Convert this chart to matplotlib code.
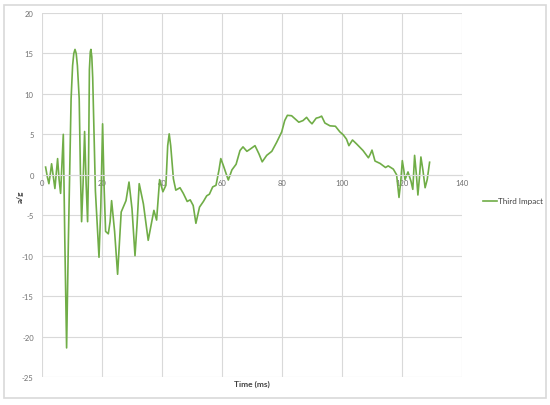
import matplotlib
matplotlib.use("Agg")
import matplotlib.pyplot as plt
from matplotlib.patches import Rectangle

plt.rcParams['font.family'] = ['Lato', 'DejaVu Sans']
plt.rcParams['axes.unicode_minus'] = False

time_ms = [1.2, 1.8, 2.3, 2.8, 3.2, 3.8, 4.3, 4.8, 5.2, 5.7, 6.2, 6.7, 7.1, 7.6, 8.2, 8.8, 9.7, 10.2,
           10.6, 11.0, 11.4, 11.8, 12.4, 12.8, 13.2, 13.7, 14.2, 14.7, 15.2, 15.5, 15.8, 16.1,
           16.3, 16.6, 16.9, 17.8, 19.0, 19.6, 20.2, 20.7, 21.2, 22.1, 22.7, 23.2, 24.2, 25.2,
           26.4, 28.0, 29.0, 30.0, 31.0, 31.7, 32.4, 33.8, 35.4, 37.3, 38.2, 39.2, 40.3, 41.3,
           41.9, 42.4, 42.9, 43.8, 44.6, 46.0, 47.1,
           48.4, 49.4, 50.4, 51.3, 52.5, 53.8, 54.9, 55.8, 56.9, 58.0, 59.0, 59.6, 60.4, 62.1,
           63.3, 64.7, 66.0, 67.0, 68.3, 69.5, 71.0, 72.3, 73.4, 74.9, 76.6, 78.2, 79.9, 80.9,
           81.8, 83.2, 84.4, 85.6, 87.0, 88.2, 89.2, 90.0, 90.8, 91.4, 92.4, 93.2, 94.3, 96.0,
           97.8, 99.3, 100.4, 101.5, 102.3, 103.5, 104.9, 107.0, 108.8, 109.5, 110.0, 111.0,
           112.7, 114.5, 115.4, 117.1, 118.2, 119.0, 119.6, 120.1, 120.6, 121.0, 122.0, 123.0,
           123.6, 124.2, 124.8, 125.3, 125.8, 126.3, 127.0, 127.7, 128.4, 129.2]
accel_g = [0.95, -0.3, -1.1, 0.2, 1.36, -0.3, -1.7, 0.4, 2.0, -0.6, -2.3, 1.8, 5.0, -8.0, -21.4, -8.0,
           9.4, 13.5, 15.0, 15.5, 15.0, 13.5, 9.4, 0.5, -5.8, -1.0, 5.35, -1.0, -5.8, 0.5, 13.0, 15.2,
           15.5, 14.6, 12.0, -2.0, -10.2, -4.0, 6.3, -1.5, -7.0, -7.3, -5.8, -3.2, -7.0, -12.3,
           -4.6, -3.2, -0.9, -4.2, -10.0, -6.0, -1.1, -3.6, -8.1, -4.4, -5.6, -0.6, -2.1, -1.3,
           3.6, 5.06, 3.6, -0.5, -1.9, -1.6, -2.3,
           -3.3, -3.1, -3.8, -6.0, -4.0, -3.3, -2.6, -2.4, -1.5, -1.3, 0.6, 2.0, 1.2, -0.65,
           0.6, 1.3, 3.0, 3.45, 2.9, 3.2, 3.6, 2.6, 1.6, 2.4, 2.9, 4.0, 5.3, 6.7,
           7.35, 7.3, 6.9, 6.5, 6.7, 7.1, 6.6, 6.3, 6.7, 7.0, 7.1, 7.25, 6.4, 6.05,
           6.0, 5.3, 4.95, 4.4, 3.6, 4.3, 3.8, 3.0, 2.1, 2.6, 3.05, 1.7,
           1.4, 0.9, 1.1, 0.7, 0.0, -2.8, -0.8, 1.75, 0.6, -0.6, 0.35, -0.8,
           -1.8, 2.4, 0.0, -2.5, -0.4, 2.2, 0.5, -1.6, -0.6, 1.55]

series_name = "Third Impact"
x_ticks = [0, 20, 40, 60, 80, 100, 120, 140]
y_ticks = [-25, -20, -15, -10, -5, 0, 5, 10, 15, 20]

fig = plt.figure(figsize=(5.5, 4.06), dpi=100)
fig.patches.append(Rectangle((4/550, 1-399/406), 542/550, 393/406, transform=fig.transFigure,
                             fill=False, edgecolor='#d9d9d9', linewidth=1.2))
ax = fig.add_axes([42/550, 1-378/406, 420/550, 364/406])

line, = ax.plot(time_ms, accel_g, color='#70ad47', linewidth=1.2, label=series_name,
                solid_joinstyle='round')

ax.set_xlim(0, 140)
ax.set_ylim(-25, 20)
ax.set_xticks(x_ticks)
ax.set_yticks(y_ticks)
ax.grid(True, color='#d9d9d9', linewidth=0.8)
ax.set_axisbelow(True)
for s in ['top', 'right', 'left']:
    ax.spines[s].set_visible(False)
ax.spines['bottom'].set_position(('data', 0))
ax.spines['bottom'].set_color('#d9d9d9')
ax.spines['bottom'].set_linewidth(0.8)
ax.tick_params(axis='both', length=0, labelsize=5.5, labelcolor='#6f6f6f')
ax.tick_params(axis='x', pad=3)
ax.tick_params(axis='y', pad=6)

fig.text(252/550, 1-384/406, "Time (ms)", ha='center', va='center', fontsize=6,
         fontweight='bold', color='#404040')
fig.text(20/550, 1-197/406, "a/g", ha='center', va='center', fontsize=6,
         fontweight='bold', color='#404040', rotation=90)

leg = fig.legend(handles=[line], loc='center left', bbox_to_anchor=(483/550, 1-202/406),
                 frameon=False, fontsize=5.8, handlelength=1.7, handletextpad=0.1,
                 borderpad=0, borderaxespad=0)
for t in leg.get_texts():
    t.set_color('#404040')

fig.savefig('out.png', dpi=100)
